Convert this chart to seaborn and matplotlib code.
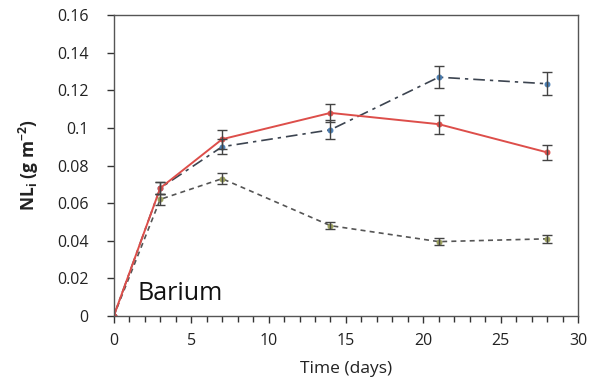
import numpy as np
import pandas as pd
import matplotlib
matplotlib.use("Agg")
import matplotlib.pyplot as plt
import seaborn as sns
from matplotlib.ticker import MultipleLocator

days = [0, 3, 7, 14, 21, 28]
red_vals = [0.0, 0.068, 0.094, 0.108, 0.102, 0.087]
red_err = [0.0, 0.003, 0.005, 0.005, 0.005, 0.004]
blue_vals = [0.0, 0.068, 0.090, 0.099, 0.127, 0.1235]
blue_err = [0.0, 0.003, 0.004, 0.005, 0.006, 0.006]
olive_vals = [0.0, 0.062, 0.073, 0.048, 0.0395, 0.041]
olive_err = [0.0, 0.003, 0.003, 0.002, 0.002, 0.002]
x_ticks = [0, 5, 10, 15, 20, 25, 30]
y_ticks = [0, 0.02, 0.04, 0.06, 0.08, 0.1, 0.12, 0.14, 0.16]
y_tick_labels = ["0", "0.02", "0.04", "0.06", "0.08", "0.1", "0.12", "0.14", "0.16"]

sns.set_style("white")
plt.rcParams['font.family'] = ['Open Sans', 'DejaVu Sans']

fig = plt.figure(figsize=(5.99, 3.89), dpi=100)
ax = fig.add_axes([0.190, 0.188, 0.775, 0.773])

series = [
    ("olive", olive_vals, olive_err, "#555555", "#9aa05a", (0, (3, 2.5)), 1.2),
    ("blue", blue_vals, blue_err, "#3c4450", "#4a7fb5", (0, (7, 3, 2, 3)), 1.2),
    ("red", red_vals, red_err, "#dd4e4a", "#dd4e4a", "-", 1.4),
]
for name, vals, errs, lc, mc, ls, lw in series:
    df = pd.DataFrame({"Time": days, "NL": vals})
    sns.lineplot(data=df, x="Time", y="NL", ax=ax, color=lc, linestyle=ls,
                 linewidth=lw, marker="o", markersize=3.5,
                 markerfacecolor=mc, markeredgecolor=mc, errorbar=None)
    ax.errorbar(days[1:], vals[1:], yerr=errs[1:], fmt="none", ecolor="#444444",
                elinewidth=1.0, capsize=3.5, capthick=1.0, zorder=3)

ax.set_xlim(0, 30)
ax.set_ylim(0, 0.16)
ax.set_xticks(x_ticks)
ax.set_xticklabels([str(v) for v in x_ticks])
ax.xaxis.set_minor_locator(MultipleLocator(1))
ax.set_yticks(y_ticks)
ax.set_yticklabels(y_tick_labels)

ax.tick_params(axis="both", which="major", direction="out", length=5, width=1,
               color="#333333", labelsize=11.5, labelcolor="#222222", bottom=True, left=True)
ax.tick_params(axis="x", which="minor", direction="out", length=4, width=1,
               color="#333333", bottom=True)
ax.tick_params(axis="x", which="major", pad=7)
ax.tick_params(axis="y", which="major", pad=13)

for s in ax.spines.values():
    s.set_color("#555555")
    s.set_linewidth(1.0)

ax.set_xlabel("Time (days)", fontsize=12.5, color="#222222", labelpad=9)
ax.set_ylabel(r"NL$_\mathregular{i}$ (g m$^\mathregular{-2}$)", fontsize=12.5,
              color="#222222", fontweight="bold", labelpad=12)
ax.text(0.05, 0.053, "Barium", transform=ax.transAxes, fontsize=18,
        color="#111111", ha="left", va="baseline")
ax.grid(False)

fig.savefig("out.png", dpi=100)
